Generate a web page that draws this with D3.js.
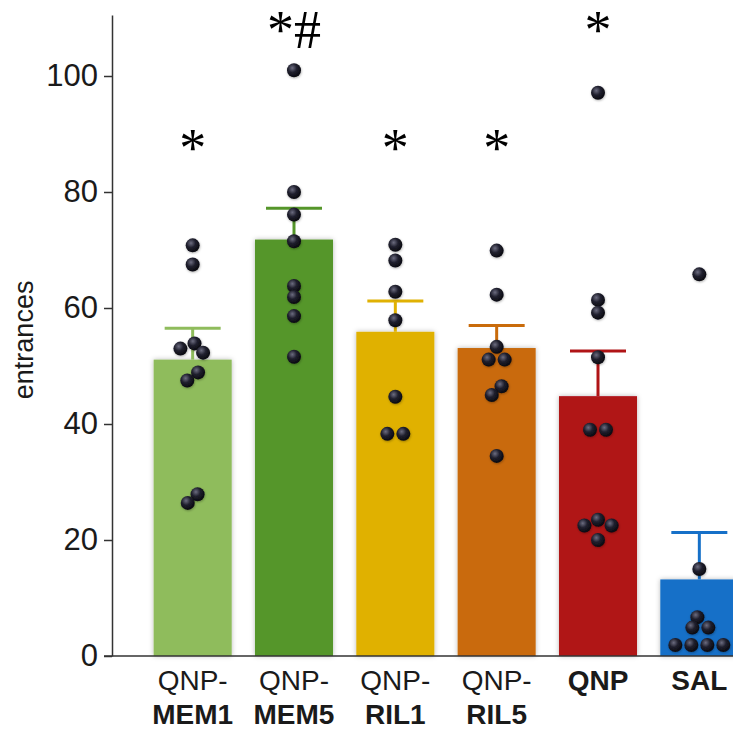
<!DOCTYPE html>
<html>
<head>
<meta charset="utf-8">
<script src="https://cdn.jsdelivr.net/npm/d3@7"></script>
<style>
  html, body { margin: 0; padding: 0; background: #fff; }
  svg { display: block; }
</style>
</head>
<body>
<div id="chart"></div>
<script>
// groups and labels
const groups = ['QNP-MEM1', 'QNP-MEM5', 'QNP-RIL1', 'QNP-RIL5', 'QNP', 'SAL'];
const labelTop = ['QNP-', 'QNP-', 'QNP-', 'QNP-', 'QNP', 'SAL'];
const labelBottom = ['MEM1', 'MEM5', 'RIL1', 'RIL5', '', ''];

// bar heights (mean) and SEM
const means = [51.1, 71.8, 55.9, 53.1, 44.8, 13.2];
const sems = [5.4, 5.4, 5.3, 3.9, 7.8, 8.1];

// individual animals
const pointsMEM1 = [70.8, 67.5, 53.9, 53.0, 52.3, 48.9, 47.5, 27.9, 26.4];
const pointsMEM5 = [101.0, 80.0, 76.1, 71.5, 63.8, 61.9, 58.6, 51.6];
const pointsRIL1 = [70.9, 68.2, 62.8, 57.9, 44.7, 38.3, 38.3];
const pointsRIL5 = [69.9, 62.3, 53.3, 51.1, 51.1, 46.5, 45.0, 34.5];
const pointsQNP = [97.1, 61.4, 59.2, 51.5, 39.0, 39.0, 23.5, 22.5, 22.5, 20.0];
const pointsSAL = [65.8, 15.0, 6.7, 4.9, 4.9, 1.9, 1.9, 1.9, 1.9];
const points = [pointsMEM1, pointsMEM5, pointsRIL1, pointsRIL5, pointsQNP, pointsSAL];

// significance marks and the level of their baseline
const sigMarks = ['*', '*#', '*', '*', '*', ''];
const sigLevels = [84.5, 104.8, 84.5, 84.5, 104.8, 0];

const yTicks = [0, 20, 40, 60, 80, 100];
const yMax = 110.5;

const config = {
  width: 733,
  height: 729,
  axisX: 112,
  baseY: 656,
  pxPerUnit: 5.8,
  colors: ['#8fbc5c', '#55962a', '#e0b103', '#c96b0b', '#b01416', '#1670c8'],
  axis: '#333',
  text: '#1a1a1a',
  font: '"Liberation Sans", Arial, Helvetica, sans-serif',
  dotR: 7
};

const svg = d3.select('#chart').append('svg')
  .attr('width', config.width)
  .attr('height', config.height);

const defs = svg.append('defs');
defs.append('filter').attr('id', 'barShadow')
  .attr('x', '-20%').attr('y', '-20%').attr('width', '140%').attr('height', '140%')
  .append('feDropShadow')
  .attr('dx', 0).attr('dy', 0).attr('stdDeviation', 2.5)
  .attr('flood-color', '#000').attr('flood-opacity', 0.28);

const grad = defs.append('radialGradient').attr('id', 'dotGrad')
  .attr('cx', '38%').attr('cy', '34%').attr('r', '70%');
grad.append('stop').attr('offset', '0%').attr('stop-color', '#6c6c80');
grad.append('stop').attr('offset', '45%').attr('stop-color', '#20202e');
grad.append('stop').attr('offset', '100%').attr('stop-color', '#07070d');

defs.append('filter').attr('id', 'dotShadow')
  .attr('x', '-50%').attr('y', '-50%').attr('width', '200%').attr('height', '200%')
  .append('feDropShadow')
  .attr('dx', 0.5).attr('dy', 1).attr('stdDeviation', 1)
  .attr('flood-color', '#000').attr('flood-opacity', 0.3);

const y = d3.scaleLinear()
  .domain([0, yMax])
  .range([config.baseY, config.baseY - config.pxPerUnit * yMax]);

const x = d3.scaleBand()
  .domain(groups)
  .range([142, 750])
  .paddingInner(0.23)
  .paddingOuter(0.115);

const color = d3.scaleOrdinal().domain(groups).range(config.colors);

// y axis
const yAxis = svg.append('g')
  .attr('transform', `translate(${config.axisX},0)`)
  .call(d3.axisLeft(y).tickValues(yTicks).tickSize(8).tickSizeOuter(0).tickPadding(6));
yAxis.select('.domain').attr('stroke', config.axis).attr('stroke-width', 1.5);
yAxis.selectAll('.tick line').attr('stroke', config.axis).attr('stroke-width', 1.5);
yAxis.selectAll('.tick text')
  .attr('fill', config.text)
  .style('font-family', config.font)
  .style('font-size', '31px');

svg.append('text')
  .text('entrances')
  .attr('transform', `translate(33,${y(54.5)}) rotate(-90)`)
  .attr('text-anchor', 'middle')
  .attr('fill', config.text)
  .style('font-family', config.font)
  .style('font-size', '27px');

// bars
svg.append('g').selectAll('rect')
  .data(groups)
  .join('rect')
  .attr('x', d => x(d))
  .attr('y', (d, i) => y(means[i]))
  .attr('width', x.bandwidth())
  .attr('height', (d, i) => y(0) - y(means[i]))
  .attr('fill', d => color(d))
  .attr('filter', 'url(#barShadow)');

// error bars (upper only)
const capW = 56;
const err = svg.append('g').selectAll('g')
  .data(groups)
  .join('g')
  .attr('stroke', d => color(d))
  .attr('stroke-width', 3);
err.append('line')
  .attr('x1', d => x(d) + x.bandwidth() / 2)
  .attr('x2', d => x(d) + x.bandwidth() / 2)
  .attr('y1', (d, i) => y(means[i]))
  .attr('y2', (d, i) => y(means[i] + sems[i]));
err.append('line')
  .attr('x1', d => x(d) + x.bandwidth() / 2 - capW / 2)
  .attr('x2', d => x(d) + x.bandwidth() / 2 + capW / 2)
  .attr('y1', (d, i) => y(means[i] + sems[i]))
  .attr('y2', (d, i) => y(means[i] + sems[i]));

// baseline
svg.append('line')
  .attr('x1', config.axisX - 8)
  .attr('x2', config.width)
  .attr('y1', y(0))
  .attr('y2', y(0))
  .attr('stroke', config.axis)
  .attr('stroke-width', 1.5);

// beeswarm offsets: elliptical collision, then centre each cluster
function swarm(values, ax, ay) {
  const order = d3.range(values.length).sort((a, b) => values[b] - values[a]);
  const placed = [];
  const offs = new Array(values.length).fill(0);
  order.forEach(i => {
    const py = y(values[i]);
    const blocked = placed
      .filter(p => Math.abs(p.py - py) < ay)
      .map(p => {
        const w = ax * Math.sqrt(1 - ((p.py - py) / ay) ** 2);
        return [p.px - w, p.px + w];
      });
    const cands = [0];
    blocked.forEach(([a, b]) => cands.push(a, b));
    cands.sort((a, b) => Math.abs(a) - Math.abs(b) || a - b);
    const px = cands.find(c => blocked.every(([a, b]) => c <= a + 1e-6 || c >= b - 1e-6));
    offs[i] = px;
    placed.push({ i, px, py });
  });
  // connected clusters
  const parent = d3.range(values.length);
  const find = k => parent[k] === k ? k : (parent[k] = find(parent[k]));
  for (let a = 0; a < values.length; a++) {
    for (let b = a + 1; b < values.length; b++) {
      if (Math.abs(y(values[a]) - y(values[b])) < ay) parent[find(a)] = find(b);
    }
  }
  const clusters = d3.group(d3.range(values.length), k => find(k));
  clusters.forEach(members => {
    const m = d3.mean(members, k => offs[k]);
    members.forEach(k => { offs[k] -= m; });
  });
  return offs;
}

const dots = [];
groups.forEach((g, gi) => {
  const offs = swarm(points[gi], 16, 11);
  points[gi].forEach((v, k) => dots.push({ group: g, value: v, dx: offs[k] }));
});

svg.append('g').selectAll('circle')
  .data(dots)
  .join('circle')
  .attr('cx', d => x(d.group) + x.bandwidth() / 2 + d.dx)
  .attr('cy', d => y(d.value))
  .attr('r', config.dotR)
  .attr('fill', 'url(#dotGrad)')
  .attr('filter', 'url(#dotShadow)');

// significance marks
svg.append('g').selectAll('text')
  .data(groups)
  .join('text')
  .text((d, i) => sigMarks[i])
  .attr('x', d => x(d) + x.bandwidth() / 2)
  .attr('y', (d, i) => y(sigLevels[i]))
  .attr('text-anchor', 'middle')
  .attr('fill', '#000')
  .style('font-family', '"Liberation Serif", "Times New Roman", serif')
  .style('font-size', '54px');

// category labels
const labels = svg.append('g').selectAll('text')
  .data(groups)
  .join('text')
  .attr('text-anchor', 'middle')
  .attr('fill', config.text)
  .style('font-family', config.font)
  .style('font-size', '28px');
labels.append('tspan')
  .attr('x', d => x(d) + x.bandwidth() / 2)
  .attr('y', 690)
  .style('font-weight', (d, i) => labelBottom[i] ? 'normal' : 'bold')
  .text((d, i) => labelTop[i]);
labels.append('tspan')
  .attr('x', d => x(d) + x.bandwidth() / 2)
  .attr('y', 724)
  .style('font-weight', 'bold')
  .text((d, i) => labelBottom[i]);
</script>
</body>
</html>
